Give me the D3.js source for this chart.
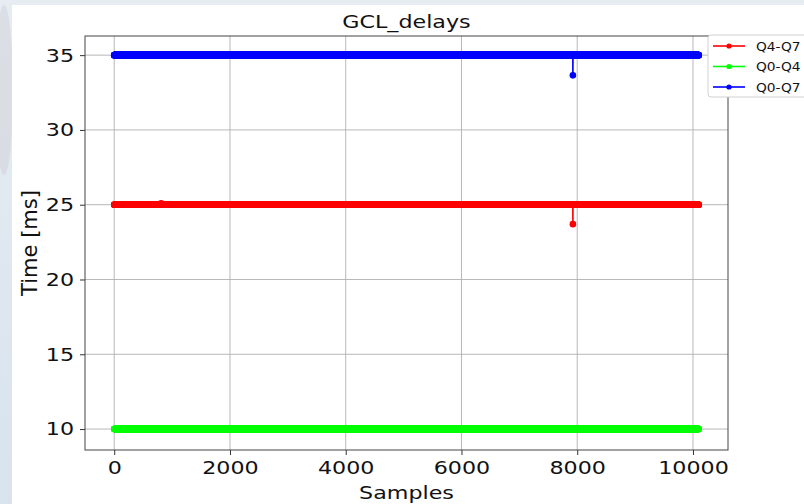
<!DOCTYPE html>
<html><head><meta charset="utf-8">
<script src="https://cdn.jsdelivr.net/npm/d3@7"></script>
<style>html,body{margin:0;padding:0;overflow:hidden;background:#fff}svg{display:block}text{font-family:"DejaVu Sans",sans-serif;fill:#111}
.sx{transform-box:fill-box;transform-origin:center;transform:scaleX(1.2)}
.sxr{transform-box:fill-box;transform-origin:right center;transform:scaleX(1.2)}
.sxl{transform-box:fill-box;transform-origin:left center;transform:scaleX(1.06)}
</style>
</head><body><svg id="c" width="804" height="504"></svg>
<script>
// ---- data ----
const chartTitle = "GCL_delays";
const xLabel = "Samples";
const yLabel = "Time [ms]";
const seriesNames = ["Q4-Q7", "Q0-Q4", "Q0-Q7"];
const seriesColors = ["#ff0000", "#00ff00", "#0000ff"];
const sampleCount = 10100;              // number of samples per series
const baseValues = [25.0, 10.0, 35.0];  // steady value of each series
// isolated deviations: [sample index, value]
const q47Deviations = [[810, 25.1], [7925, 23.7]];
const q04Deviations = [[810, 9.95], [880, 10.05]];
const q07Deviations = [[7925, 33.65]];
const xTicks = [0, 2000, 4000, 6000, 8000, 10000];
const yTicks = [10, 15, 20, 25, 30, 35];

const deviations = [q47Deviations, q04Deviations, q07Deviations];
const series = seriesNames.map((name, k) => {
  const vals = new Array(sampleCount).fill(baseValues[k]);
  deviations[k].forEach(([i, v]) => { vals[i] = v; });
  return {name, color: seriesColors[k], values: vals};
});

// ---- layout ----
const svg = d3.select("#c");
const W = 804, H = 504;
const m = {left: 85, right: 728, top: 36, bottom: 450};

// background (screenshot surroundings)
const defs = svg.append("defs");
const g1 = defs.append("linearGradient").attr("id", "bg").attr("x1", 0).attr("y1", 0).attr("x2", 0).attr("y2", 1);
g1.append("stop").attr("offset", "0%").attr("stop-color", "#e6ecf2");
g1.append("stop").attr("offset", "100%").attr("stop-color", "#d8e3ee");
svg.append("rect").attr("width", W).attr("height", H).attr("fill", "url(#bg)");
svg.append("ellipse").attr("cx", 4).attr("cy", 90).attr("rx", 9).attr("ry", 85).attr("fill", "#d3d6da").attr("opacity", 0.6);
svg.append("rect").attr("x", 12).attr("y", 5).attr("width", W - 12).attr("height", H - 5).attr("fill", "#fff");

const x = d3.scaleLinear().domain([-505, 10605]).range([m.left, m.right]);
const y = d3.scaleLinear().domain([8.6, 36.28]).range([m.bottom, m.top]);

// grid
const grid = svg.append("g");
xTicks.forEach(t => grid.append("line").attr("x1", x(t)).attr("x2", x(t)).attr("y1", m.top).attr("y2", m.bottom).attr("stroke", "#b0b0b0").attr("stroke-width", 0.9));
yTicks.forEach(t => grid.append("line").attr("y1", y(t)).attr("y2", y(t)).attr("x1", m.left).attr("x2", m.right).attr("stroke", "#b0b0b0").attr("stroke-width", 0.9));

// series
const clip = defs.append("clipPath").attr("id", "pc");
clip.append("rect").attr("x", m.left).attr("y", m.top).attr("width", m.right - m.left).attr("height", m.bottom - m.top);
const plot = svg.append("g").attr("clip-path", "url(#pc)");
const line = d3.line().x((d, i) => x(i)).y(d => y(d));
series.forEach(s => {
  const g = plot.append("g");
  g.append("path").attr("d", line(s.values)).attr("fill", "none").attr("stroke", s.color).attr("stroke-width", 1.6);
  g.selectAll("circle").data(s.values).join("circle")
    .attr("cx", (d, i) => x(i)).attr("cy", d => y(d)).attr("r", 3.3).attr("fill", s.color);
});

// axes
const xAxis = svg.append("g").attr("transform", `translate(0,${m.bottom})`)
  .call(d3.axisBottom(x).tickValues(xTicks).tickSize(5).tickPadding(6).tickFormat(d3.format("d")));
const yAxis = svg.append("g").attr("transform", `translate(${m.left},0)`)
  .call(d3.axisLeft(y).tickValues(yTicks).tickSize(5).tickPadding(6).tickFormat(d3.format("d")));
[xAxis, yAxis].forEach(a => {
  a.select(".domain").remove();
  a.selectAll(".tick line").attr("stroke", "#333");
  a.selectAll(".tick text").attr("font-size", 18.5).attr("fill", "#111").style("font-family", "DejaVu Sans");
});
xAxis.selectAll(".tick text").attr("dy", "0.71em").attr("class", "sx");
yAxis.selectAll(".tick text").attr("class", "sxr");
svg.append("rect").attr("x", m.left).attr("y", m.top).attr("width", m.right - m.left).attr("height", m.bottom - m.top)
  .attr("fill", "none").attr("stroke", "#444").attr("stroke-width", 1);

// labels
svg.append("text").attr("class", "sx").attr("x", (m.left + m.right) / 2).attr("y", 28).attr("text-anchor", "middle").attr("font-size", 18.5).text(chartTitle);
svg.append("text").attr("class", "sx").attr("x", (m.left + m.right) / 2).attr("y", 499).attr("text-anchor", "middle").attr("font-size", 18.5).text(xLabel);
svg.append("text").attr("transform", `translate(37,${(m.top + m.bottom) / 2}) rotate(-90)`).attr("text-anchor", "middle").attr("font-size", 21).text(yLabel);

// legend
const lg = svg.append("g");
lg.append("rect").attr("x", 708).attr("y", 35).attr("width", 110).attr("height", 62).attr("rx", 3)
  .attr("fill", "#fff").attr("stroke", "#d0d0d0").attr("stroke-width", 1);
series.forEach((s, k) => {
  const yy = 46 + k * 20.5;
  lg.append("line").attr("x1", 713).attr("x2", 745).attr("y1", yy).attr("y2", yy).attr("stroke", s.color).attr("stroke-width", 1.6);
  lg.append("circle").attr("cx", 729).attr("cy", yy).attr("r", 2.6).attr("fill", s.color);
  lg.append("text").attr("class", "sxl").attr("x", 756).attr("y", yy + 5).attr("font-size", 13).text(s.name);
});
</script></body></html>
